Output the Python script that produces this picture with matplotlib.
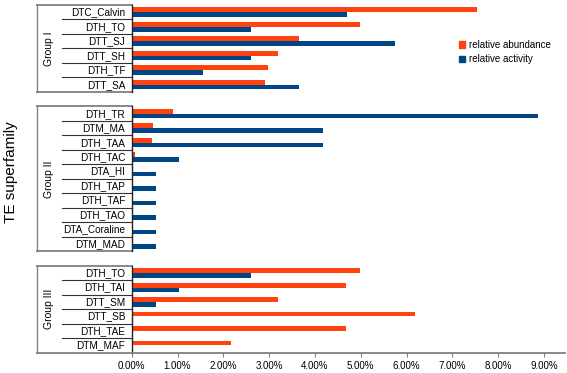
import numpy as np
import matplotlib.pyplot as plt
from matplotlib.patches import Patch

plt.rcParams['font.family'] = ['Liberation Sans', 'DejaVu Sans']

group_names = ['Group I', 'Group II', 'Group III']
group1 = ['DTC_Calvin', 'DTH_TO', 'DTT_SJ', 'DTT_SH', 'DTH_TF', 'DTT_SA']
group2 = ['DTH_TR', 'DTM_MA', 'DTH_TAA', 'DTH_TAC', 'DTA_HI', 'DTH_TAP',
          'DTH_TAF', 'DTH_TAO', 'DTA_Coraline', 'DTM_MAD']
group3 = ['DTH_TO', 'DTH_TAI', 'DTT_SM', 'DTT_SB', 'DTH_TAE', 'DTM_MAF']

abund1 = [7.54, 4.98, 3.65, 3.19, 2.97, 2.90]
activ1 = [4.69, 2.60, 5.74, 2.60, 1.56, 3.65]
abund2 = [0.90, 0.46, 0.44, 0.07, 0.03, 0.03, 0.03, 0.03, 0.0, 0.0]
activ2 = [8.87, 4.17, 4.17, 1.04, 0.52, 0.52, 0.52, 0.52, 0.52, 0.52]
abund3 = [4.98, 4.68, 3.19, 6.19, 4.68, 2.17]
activ3 = [2.60, 1.04, 0.52, 0.0, 0.0, 0.0]

xticks = np.arange(0, 10)

orange = '#ff420e'
blue = '#004586'

fig = plt.figure(figsize=(5.67, 3.73), dpi=100)
ax = fig.add_axes([0.2323, 0.0544, 0.7642, 0.9322])

groups = [(group1, abund1, activ1), (group2, abund2, activ2), (group3, abund3, activ3)]
h = 0.33
start = 0
x_lab = -0.161   # left edge of label column (axes fraction)
x_grp = -0.2186  # left edge of group column
tr = ax.get_yaxis_transform()
for gname, (cats, ab, ac) in zip(group_names, groups):
    n = len(cats)
    y = start + np.arange(n) + 0.5
    ax.barh(y - h / 2, ab, height=h, color=orange)
    ax.barh(y + h / 2, ac, height=h, color=blue)
    for yi, c in zip(y, cats):
        ax.text(-0.015, yi, c, transform=tr, ha='right', va='center', fontsize=7.2)
    # row separators
    for k in range(1, n):
        ax.plot([x_lab, 0], [start + k, start + k], transform=tr, color='#333333',
                lw=0.8, clip_on=False)
    # group top / bottom
    ax.plot([x_grp, 0], [start, start], transform=tr, color='#808080', lw=1.3, clip_on=False)
    if gname != 'Group III':
        ax.plot([x_grp, 0], [start + n, start + n], transform=tr, color='#808080',
                lw=1.3, clip_on=False)
    ax.plot([x_grp, x_grp], [start, start + n], transform=tr, color='#808080',
            lw=1.0, clip_on=False)
    ax.plot([0, 0], [start, start + n], transform=tr, color='#222222', lw=1.0, clip_on=False)
    ax.text(-0.19, start + n / 2, gname, transform=tr, rotation=90, ha='center',
            va='center', fontsize=7.5)
    start += n + 1

ax.set_ylim(start - 1, 0)
ax.set_xlim(0, 9.46)
for s in ['left', 'right', 'top', 'bottom']:
    ax.spines[s].set_visible(False)
ax.plot([x_grp, 1], [start - 1, start - 1], transform=tr, color='#808080', lw=1.3,
        clip_on=False)
ax.set_yticks([])
ax.set_xticks(xticks)
ax.set_xticklabels([f'{v:.2f}%' for v in xticks], fontsize=7)
ax.tick_params(axis='x', length=3, color='#808080', pad=3)

fig.text(11 / 567, 1 - 172 / 373, 'TE superfamily', rotation=90, ha='center',
         va='center', fontsize=11)

handles = [Patch(color=orange, label='relative abundance'),
           Patch(color=blue, label='relative activity')]
fig.legend(handles=handles, loc='upper left', bbox_to_anchor=(455 / 567, 1 - 36 / 373),
           frameon=False, fontsize=7, handlelength=0.6, handleheight=0.6,
           handletextpad=0.4, labelspacing=0.45, borderaxespad=0)

fig.savefig('out.png', dpi=100)
